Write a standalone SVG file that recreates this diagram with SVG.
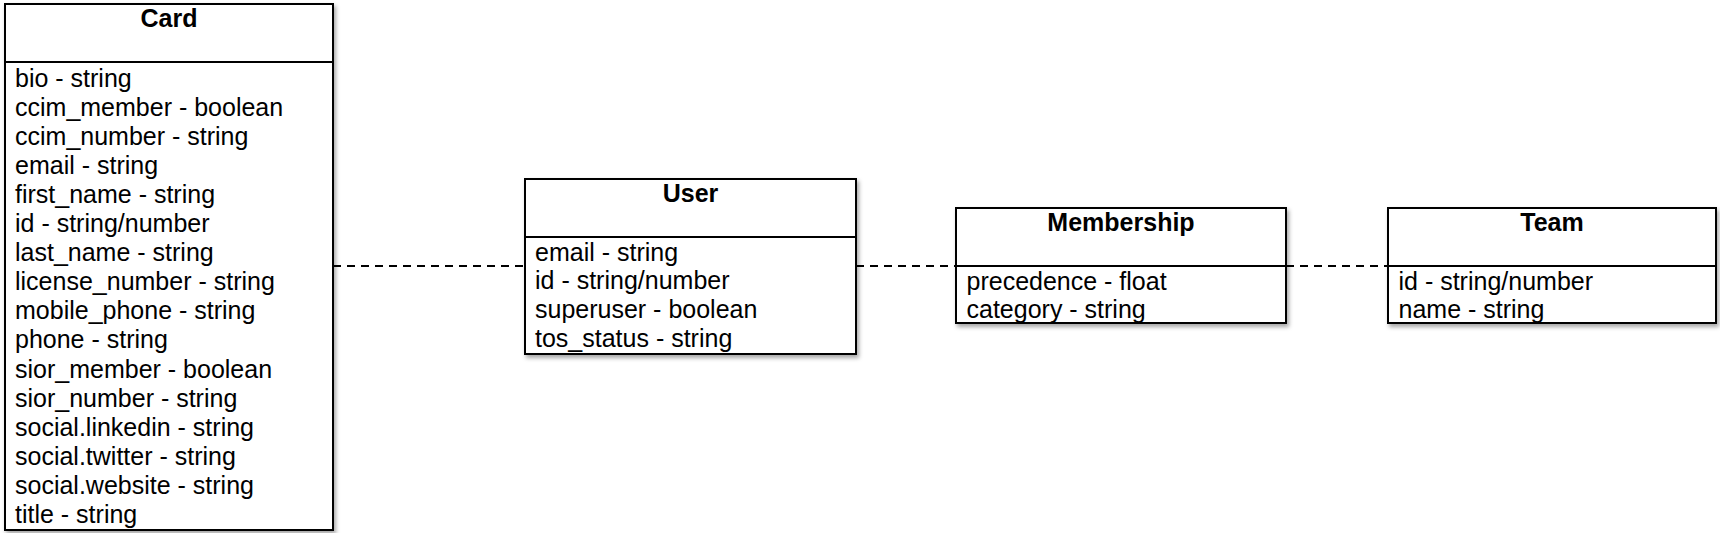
<svg xmlns="http://www.w3.org/2000/svg" width="1720" height="533" viewBox="0 0 1720 533">
<style>
.box{fill:#ffffff;stroke:#000000;stroke-width:2;filter:url(#sh)}
.div{stroke:#000000;stroke-width:2}
.hd{font-family:"Liberation Sans",Arial,Helvetica,sans-serif;font-size:25px;font-weight:bold;text-anchor:middle;fill:#000}
.f{font-family:"Liberation Sans",Arial,Helvetica,sans-serif;font-size:25px;fill:#000}
.con{stroke:#000000;stroke-width:2;stroke-dasharray:8,6;fill:none}
</style>
<defs>
<filter id="sh" x="-5%" y="-5%" width="115%" height="115%">
<feDropShadow dx="2" dy="3" stdDeviation="2" flood-color="#000" flood-opacity="0.35"/>
</filter>
</defs>
<rect width="1720" height="533" fill="#ffffff"/>
<g id="connectors">
<line class="con" x1="333" y1="266" x2="525" y2="266"/>
<line class="con" x1="856" y1="266" x2="956" y2="266"/>
<line class="con" x1="1286" y1="266" x2="1388" y2="266"/>
</g>
<g id="card">
<rect class="box" x="5" y="4" width="328" height="526"/>
<line class="div" x1="5" y1="62" x2="333" y2="62"/>
<text class="hd" x="169" y="26.5">Card</text>
<text class="f" x="15" y="86.5">bio - string</text>
<text class="f" x="15" y="115.6">ccim_member - boolean</text>
<text class="f" x="15" y="144.7">ccim_number - string</text>
<text class="f" x="15" y="173.8">email - string</text>
<text class="f" x="15" y="202.9">first_name - string</text>
<text class="f" x="15" y="232">id - string/number</text>
<text class="f" x="15" y="261.1">last_name - string</text>
<text class="f" x="15" y="290.2">license_number - string</text>
<text class="f" x="15" y="319.3">mobile_phone - string</text>
<text class="f" x="15" y="348.4">phone - string</text>
<text class="f" x="15" y="377.5">sior_member - boolean</text>
<text class="f" x="15" y="406.6">sior_number - string</text>
<text class="f" x="15" y="435.7">social.linkedin - string</text>
<text class="f" x="15" y="464.8">social.twitter - string</text>
<text class="f" x="15" y="493.9">social.website - string</text>
<text class="f" x="15" y="523">title - string</text>
</g>
<g id="user">
<rect class="box" x="525" y="179" width="331" height="175"/>
<line class="div" x1="525" y1="237" x2="856" y2="237"/>
<text class="hd" x="690.5" y="201.5">User</text>
<text class="f" x="535" y="260.5">email - string</text>
<text class="f" x="535" y="289.4">id - string/number</text>
<text class="f" x="535" y="318.3">superuser - boolean</text>
<text class="f" x="535" y="347.2">tos_status - string</text>
</g>
<g id="membership">
<rect class="box" x="956" y="208" width="330" height="115"/>
<line class="div" x1="956" y1="266" x2="1286" y2="266"/>
<text class="hd" x="1121" y="230.5">Membership</text>
<text class="f" x="966.5" y="289.5">precedence - float</text>
<text class="f" x="966.5" y="318.4">category - string</text>
</g>
<g id="team">
<rect class="box" x="1388" y="208" width="328" height="115"/>
<line class="div" x1="1388" y1="266" x2="1716" y2="266"/>
<text class="hd" x="1552" y="230.5">Team</text>
<text class="f" x="1398.5" y="289.5">id - string/number</text>
<text class="f" x="1398.5" y="318.4">name - string</text>
</g>
</svg>
